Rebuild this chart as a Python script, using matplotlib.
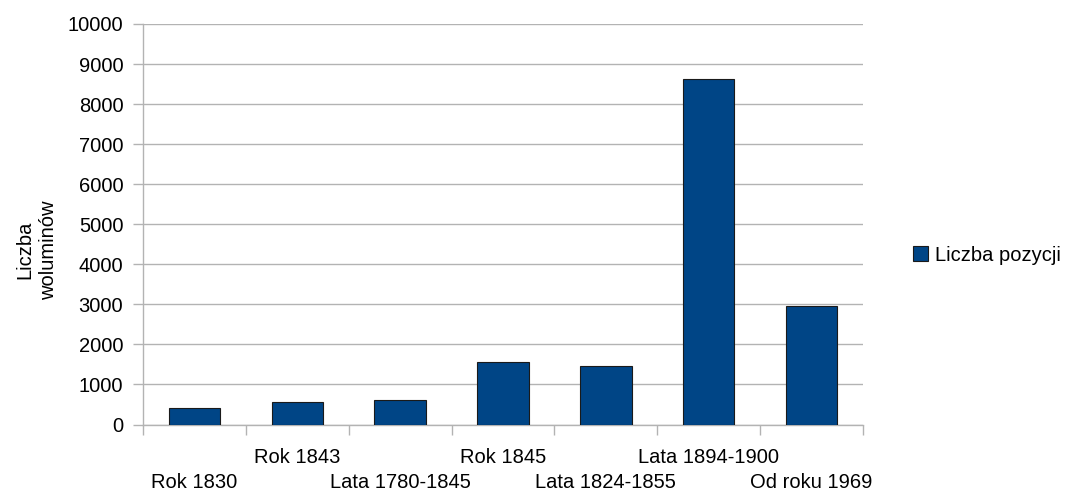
import numpy as np
import matplotlib
matplotlib.use("Agg")
import matplotlib.pyplot as plt
from matplotlib.ticker import FixedLocator, MultipleLocator

categories = ["Rok 1830", "Rok 1843", "Lata 1780-1845", "Rok 1845",
              "Lata 1824-1855", "Lata 1894-1900", "Od roku 1969"]
values = [405, 570, 620, 1560, 1470, 8620, 2960]
series_name = "Liczba pozycji"

plt.rcParams['font.family'] = ['Liberation Sans', 'DejaVu Sans']
grid_col = "#b3b3b3"
fs = 14.5

fig = plt.figure(figsize=(10.72, 4.94), dpi=100)
ax = fig.add_axes([143 / 1072, 69.5 / 494, 720 / 1072, 400.5 / 494])

x = np.arange(len(categories))
bars = ax.bar(x, values, width=0.5, color="#004586", edgecolor="#1a1a1a",
              linewidth=0.8, label=series_name, zorder=3)

ax.set_xlim(-0.5, len(categories) - 0.5)
ax.set_ylim(0, 10000)
ax.yaxis.set_major_locator(MultipleLocator(1000))
ax.yaxis.grid(True, color=grid_col, linewidth=1.0, zorder=0)

ax.xaxis.set_major_locator(FixedLocator(np.arange(len(categories) + 1) - 0.5))
ax.set_xticklabels([])
ax.tick_params(axis="both", direction="out", length=7.2, color=grid_col, width=1.0)
ax.tick_params(axis="y", labelsize=fs, pad=7)

for s in ["top", "right"]:
    ax.spines[s].set_visible(False)
for s in ["left", "bottom"]:
    ax.spines[s].set_color(grid_col)
    ax.spines[s].set_linewidth(1.0)

# staggered category labels
for i, lab in enumerate(categories):
    yoff = -33 if i % 2 == 1 else -58
    ax.annotate(lab, xy=(i, 0), xycoords=("data", "axes fraction"),
                xytext=(0, yoff), textcoords="offset pixels",
                ha="center", va="center", fontsize=fs)

fig.text(37 / 1072, 1 - 250 / 494, "Liczba\nwoluminów", rotation=90,
         ha="center", va="center", fontsize=fs, linespacing=1.3)

leg = fig.legend(handles=[bars], labels=[series_name],
                 loc="center left", bbox_to_anchor=(903 / 1072, 1 - 255 / 494),
                 frameon=False, fontsize=fs, handlelength=0.75, handleheight=0.75,
                 handletextpad=0.35, borderpad=0)

fig.savefig("out.png", dpi=100)
